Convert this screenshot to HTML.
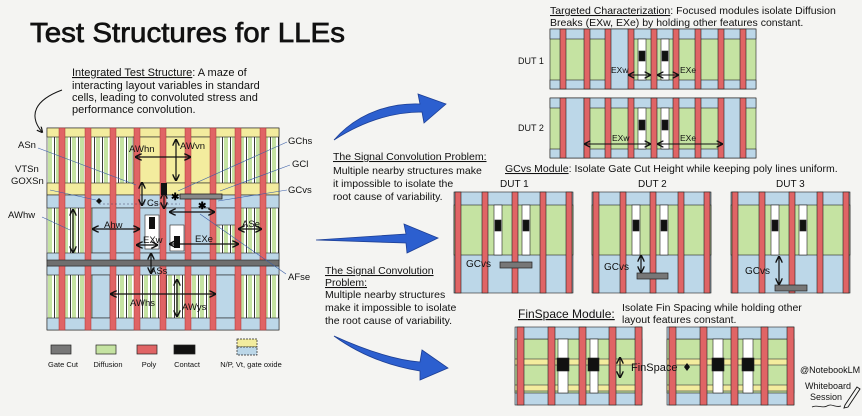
<!DOCTYPE html>
<html><head><meta charset="utf-8"><style>
html,body{margin:0;padding:0;background:#f4f4f2;}
svg{display:block;font-family:"Liberation Sans",sans-serif;}
</style></head><body>
<svg width="862" height="416" viewBox="0 0 862 416" xmlns="http://www.w3.org/2000/svg">
<defs>
<pattern id="st" width="8" height="8" patternUnits="userSpaceOnUse"><rect width="8" height="8" fill="#fff"/><rect x="0" width="4" height="8" fill="#c5e3a2"/><rect x="6" width="0.9" height="8" fill="#222"/></pattern>
<pattern id="fy" width="10" height="26" patternUnits="userSpaceOnUse"><rect width="10" height="26" fill="#c5e3a2"/><rect y="6" width="10" height="6" fill="#f3ec9e"/><line x1="0" y1="6" x2="10" y2="6" stroke="#333" stroke-width=".6"/><line x1="0" y1="12" x2="10" y2="12" stroke="#333" stroke-width=".6"/></pattern>
<marker id="ah" markerWidth="6" markerHeight="6" refX="5" refY="3" orient="auto-start-reverse"><path d="M0,0 L6,3 L0,6" fill="none" stroke="#111" stroke-width="1.2"/></marker>
</defs>
<rect width="862" height="416" fill="#f4f4f2"/>
<text x="30" y="42" font-size="28" fill="#111" stroke="#111" stroke-width=".7" textLength="315" lengthAdjust="spacingAndGlyphs">Test Structures for LLEs</text>

<g font-size="11" fill="#111">
<text x="72" y="76"><tspan text-decoration="underline">Integrated Test Structure</tspan>: A maze of</text>
<text x="72" y="89">interacting layout variables in standard</text>
<text x="72" y="101">cells, leading to convoluted stress and</text>
<text x="72" y="113">performance convolution.</text>
</g>
<path d="M62,90 C35,100 28,115 42,132" fill="none" stroke="#111" stroke-width="1" marker-end="url(#ah)"/>

<g stroke="#222" stroke-width=".6">
<rect x="47" y="128" width="232" height="202" fill="url(#st)"/>
<rect x="47" y="128" width="232" height="9" fill="#f3ec9e"/>
<rect x="133" y="137" width="82" height="46" fill="#f3ec9e"/>
<rect x="47" y="183" width="232" height="12" fill="#f3ec9e"/>
<rect x="47" y="195" width="232" height="13" fill="#bcd7e8"/>
<rect x="92" y="208" width="45" height="45" fill="#bcd7e8"/>
<rect x="137" y="208" width="78" height="45" fill="#bcd7e8"/>
<rect x="145" y="215" width="14" height="34" fill="#fff"/>
<rect x="170" y="225" width="14" height="26" fill="#fff"/>
<rect x="215" y="208" width="25" height="17" fill="#bcd7e8"/>
<rect x="47" y="253" width="232" height="8" fill="#bcd7e8"/>
<rect x="47" y="266" width="232" height="9" fill="#bcd7e8"/>
<rect x="92" y="275" width="18" height="43" fill="#bcd7e8"/>
<rect x="215" y="275" width="20" height="43" fill="#bcd7e8"/>
<rect x="47" y="318" width="232" height="12" fill="#bcd7e8"/>
</g>
<g fill="#e06465" stroke="#a33" stroke-width=".5">
<rect x="59" y="128" width="6" height="202"/><rect x="85" y="128" width="6" height="202"/><rect x="110" y="128" width="6" height="202"/><rect x="134" y="128" width="6" height="202"/><rect x="160" y="128" width="6" height="202"/><rect x="185" y="128" width="6" height="202"/><rect x="210" y="128" width="6" height="202"/><rect x="235" y="128" width="6" height="202"/><rect x="260" y="128" width="6" height="202"/>
</g>
<rect x="47" y="260" width="232" height="6" fill="#6f6f6f" stroke="#222" stroke-width=".6"/>
<g fill="#111"><rect x="161" y="183" width="6" height="12"/><rect x="149" y="217" width="6" height="12"/><rect x="174" y="236" width="6" height="12"/></g>
<rect x="180" y="194" width="42" height="5" fill="#888" stroke="#222" stroke-width=".8"/>
<g stroke="#111" stroke-width="1.2" fill="none" marker-start="url(#ah)" marker-end="url(#ah)">
<line x1="136" y1="157" x2="190" y2="157"/><line x1="176" y1="140" x2="176" y2="180"/>
<line x1="142" y1="183" x2="142" y2="205"/><line x1="164" y1="193" x2="164" y2="208"/>
<line x1="93" y1="229" x2="139" y2="229"/><line x1="73" y1="210" x2="73" y2="252"/>
<line x1="137" y1="245" x2="157" y2="245"/><line x1="170" y1="244" x2="238" y2="244"/>
<line x1="170" y1="212" x2="214" y2="212"/><line x1="239" y1="229" x2="261" y2="229"/>
<line x1="151" y1="254" x2="151" y2="273"/><line x1="111" y1="294" x2="215" y2="294"/>
<line x1="177" y1="280" x2="177" y2="316"/>
</g>
<line x1="99" y1="204" x2="180" y2="204" stroke="#446" stroke-width=".6" stroke-dasharray="2,2"/>
<path d="M99,198 l-3,3 3,3 3,-3z" fill="#111"/>
<text x="171" y="200" font-size="10" font-weight="bold">✱</text><text x="198" y="209" font-size="10" font-weight="bold">✱</text>
<g font-size="9.5" fill="#111">
<text x="129" y="152">AWhn</text><text x="180" y="149">AWvn</text><text x="147" y="206">Cs</text>
<text x="104" y="228">Ahw</text><text x="143" y="243">EXw</text><text x="195" y="242">EXe</text>
<text x="242" y="227">ASe</text><text x="150" y="274">ASs</text><text x="130" y="306">AWhs</text><text x="182" y="310">AWys</text>
<text x="18" y="148">ASn</text><text x="15" y="172">VTSn</text><text x="11" y="184">GOXSn</text><text x="8" y="218">AWhw</text>
<text x="288" y="144">GChs</text><text x="292" y="167">GCl</text><text x="288" y="193">GCvs</text><text x="288" y="280">AFse</text>
</g>
<g stroke="#3b5fa8" stroke-width=".6" fill="none">
<line x1="38" y1="148" x2="136" y2="185"/><line x1="50" y1="190" x2="96" y2="200"/><line x1="42" y1="217" x2="70" y2="230"/>
<line x1="287" y1="142" x2="178" y2="191"/><line x1="290" y1="165" x2="220" y2="191"/><line x1="287" y1="190" x2="218" y2="201"/><line x1="286" y1="274" x2="200" y2="214"/>
</g>
<g stroke="#222" stroke-width=".7">
<rect x="51" y="345" width="20" height="9" fill="#777"/><rect x="96" y="345" width="20" height="9" fill="#c5e3a2"/><rect x="137" y="345" width="20" height="9" fill="#e06465"/><rect x="174" y="345" width="21" height="9" fill="#111"/>
<rect x="237" y="339" width="20" height="8" fill="#f3ec9e" stroke-dasharray="2,1"/><rect x="237" y="347" width="20" height="8" fill="#bcd7e8" stroke-dasharray="2,1"/>
</g>
<g font-size="7.5" fill="#111" text-anchor="middle"><text x="63" y="367">Gate Cut</text><text x="108" y="367">Diffusion</text><text x="149" y="367">Poly</text><text x="187" y="367">Contact</text><text x="251" y="367">N/P, Vt, gate oxide</text></g>

<g fill="#2c5fcf" stroke="#1d3f95" stroke-width=".8">
<path d="M334,140 C360,110 395,103 420,104 L418,94 L446,104 L424,123 L422,112 C395,112 365,120 334,140z"/>
<path d="M316,240 L406,234 L404,224 L438,238 L407,253 L406,243 Z"/>
<path d="M334,336 C365,350 395,360 420,362 L422,350 L448,368 L420,380 L420,371 C390,366 360,355 334,336z"/>
</g>
<g font-size="10.5" fill="#111">
<text x="333" y="160" text-decoration="underline">The Signal Convolution Problem:</text>
<text x="333" y="174">Multiple nearby structures make</text>
<text x="333" y="187">it impossible to isolate the</text>
<text x="333" y="200">root cause of variability.</text>
<text x="325" y="274" text-decoration="underline">The Signal Convolution</text>
<text x="325" y="286" text-decoration="underline">Problem:</text>
<text x="325" y="298">Multiple nearby structures</text>
<text x="325" y="311">make it impossible to isolate</text>
<text x="325" y="324">the root cause of variability.</text>
</g>

<g font-size="10.5" fill="#111">
<text x="550" y="14"><tspan text-decoration="underline">Targeted Characterization</tspan>: Focused modules isolate Diffusion</text>
<text x="550" y="26">Breaks (EXw, EXe) by holding other features constant.</text>
<text x="518" y="64" font-size="9">DUT 1</text><text x="518" y="131" font-size="9">DUT 2</text>
</g>
<g stroke="#222" stroke-width=".6">
<rect x="550" y="29" width="206" height="60" fill="#c5e3a2"/>
<rect x="550" y="29" width="206" height="10" fill="#bcd7e8"/><rect x="550" y="80" width="206" height="9" fill="#bcd7e8"/>
<rect x="610" y="29" width="20" height="60" fill="#bcd7e8"/>
<rect x="638" y="39" width="8" height="41" fill="#fff"/><rect x="661" y="39" width="8" height="41" fill="#fff"/>
<rect x="639" y="51" width="6" height="10" fill="#111"/><rect x="662" y="51" width="6" height="10" fill="#111"/>
<g fill="#e06465"><rect x="560" y="29" width="6" height="60"/><rect x="584" y="29" width="6" height="60"/><rect x="605" y="29" width="6" height="60"/><rect x="628" y="29" width="6" height="60"/><rect x="651" y="29" width="6" height="60"/><rect x="673" y="29" width="6" height="60"/><rect x="695" y="29" width="6" height="60"/><rect x="718" y="29" width="6" height="60"/><rect x="740" y="29" width="6" height="60"/></g>
</g>
<g stroke="#222" stroke-width=".6">
<rect x="550" y="98" width="206" height="60" fill="#c5e3a2"/>
<rect x="550" y="98" width="206" height="10" fill="#bcd7e8"/><rect x="550" y="149" width="206" height="9" fill="#bcd7e8"/>
<rect x="564" y="98" width="20" height="60" fill="#bcd7e8"/><rect x="722" y="98" width="20" height="60" fill="#bcd7e8"/>
<rect x="638" y="108" width="8" height="41" fill="#fff"/><rect x="661" y="108" width="8" height="41" fill="#fff"/>
<rect x="639" y="120" width="6" height="10" fill="#111"/><rect x="662" y="120" width="6" height="10" fill="#111"/>
<g fill="#e06465"><rect x="560" y="98" width="6" height="60"/><rect x="584" y="98" width="6" height="60"/><rect x="605" y="98" width="6" height="60"/><rect x="628" y="98" width="6" height="60"/><rect x="651" y="98" width="6" height="60"/><rect x="673" y="98" width="6" height="60"/><rect x="695" y="98" width="6" height="60"/><rect x="718" y="98" width="6" height="60"/><rect x="740" y="98" width="6" height="60"/></g>
</g>
<g stroke="#111" stroke-width="1.1" marker-start="url(#ah)" marker-end="url(#ah)">
<line x1="629" y1="75" x2="650" y2="75"/><line x1="658" y1="75" x2="678" y2="75"/>
<line x1="585" y1="144" x2="650" y2="144"/><line x1="658" y1="144" x2="722" y2="144"/>
</g>
<g font-size="8.5" fill="#111"><text x="611" y="73">EXw</text><text x="680" y="73">EXe</text><text x="612" y="141">EXw</text><text x="680" y="141">EXe</text></g>

<text x="505" y="172" font-size="10.5" fill="#111"><tspan text-decoration="underline">GCvs Module</tspan>: Isolate Gate Cut Height while keeping poly lines uniform.</text>
<g font-size="10" fill="#111"><text x="500" y="187">DUT 1</text><text x="638" y="187">DUT 2</text><text x="776" y="187">DUT 3</text></g>
<defs>
<g id="gd" stroke="#222" stroke-width=".6">
<rect width="119" height="101" fill="#bcd7e8"/>
<rect x="0" y="13" width="119" height="50" fill="#c5e3a2"/>
<rect x="40" y="13" width="8" height="50" fill="#fff"/><rect x="68" y="13" width="8" height="50" fill="#fff"/>
<rect x="41" y="28" width="6" height="11" fill="#111"/><rect x="69" y="28" width="6" height="11" fill="#111"/>
<g fill="#e06465"><rect x="1" width="6" height="101"/><rect x="28" width="6" height="101"/><rect x="58" width="6" height="101"/><rect x="86" width="6" height="101"/><rect x="112" width="6" height="101"/></g>
</g>
</defs>
<use href="#gd" x="454" y="192"/><use href="#gd" x="592" y="192"/><use href="#gd" x="731" y="192"/>
<g fill="#777" stroke="#222" stroke-width=".7">
<rect x="500" y="262" width="32" height="6"/><rect x="637" y="273" width="31" height="6"/><rect x="775" y="285" width="32" height="6"/>
</g>
<g stroke="#111" stroke-width="1.2" marker-start="url(#ah)" marker-end="url(#ah)">
<line x1="641" y1="256" x2="641" y2="272"/><line x1="779" y1="257" x2="779" y2="284"/>
</g>
<g font-size="10" fill="#111"><text x="466" y="267">GCvs</text><text x="604" y="270">GCvs</text><text x="745" y="274">GCvs</text></g>

<text x="518" y="318" font-size="12" fill="#111" text-decoration="underline">FinSpace Module:</text>
<g font-size="10.5" fill="#111"><text x="622" y="311">Isolate Fin Spacing while holding other</text><text x="622" y="323">layout features constant.</text></g>
<defs>
<g id="fb" stroke="#222" stroke-width=".6">
<rect width="127" height="78" fill="#bcd7e8"/>
<rect x="0" y="12" width="127" height="54" fill="url(#fy)"/>
<g fill="#e06465"><rect x="2" width="7" height="78"/><rect x="33" width="7" height="78"/><rect x="64" width="7" height="78"/><rect x="94" width="7" height="78"/><rect x="120" width="7" height="78"/></g>
</g>
</defs>
<use href="#fb" x="515" y="327"/><use href="#fb" x="667" y="327"/>
<g stroke="#222" stroke-width=".6">
<rect x="558" y="339" width="10" height="54" fill="#fff"/><rect x="590" y="339" width="8" height="54" fill="#fff"/>
<rect x="557" y="358" width="12" height="13" fill="#111"/><rect x="588" y="358" width="11" height="13" fill="#111"/>
<rect x="713" y="339" width="10" height="54" fill="#fff"/><rect x="743" y="339" width="10" height="54" fill="#fff"/>
<rect x="712" y="358" width="12" height="13" fill="#111"/><rect x="742" y="358" width="12" height="13" fill="#111"/>
</g>
<line x1="620" y1="358" x2="620" y2="377" stroke="#111" stroke-width="1.2" marker-start="url(#ah)" marker-end="url(#ah)"/>
<path d="M687,363 l-3,4 3,4 3,-4z" fill="#111"/>
<text x="631" y="371" font-size="11" fill="#111">FinSpace</text>
<g font-size="9" fill="#111"><text x="800" y="373">@NotebookLM</text><text x="805" y="389">Whiteboard</text><text x="810" y="400">Session</text></g>
<path d="M812,407 c5,-3 10,2 15,-1 c5,-3 8,2 14,0" fill="none" stroke="#111" stroke-width=".8"/>
<path d="M845,405 l12,-18 l3,2 l-12,18 l-4,1z" fill="none" stroke="#111" stroke-width=".9"/>
</svg>
</body></html>
